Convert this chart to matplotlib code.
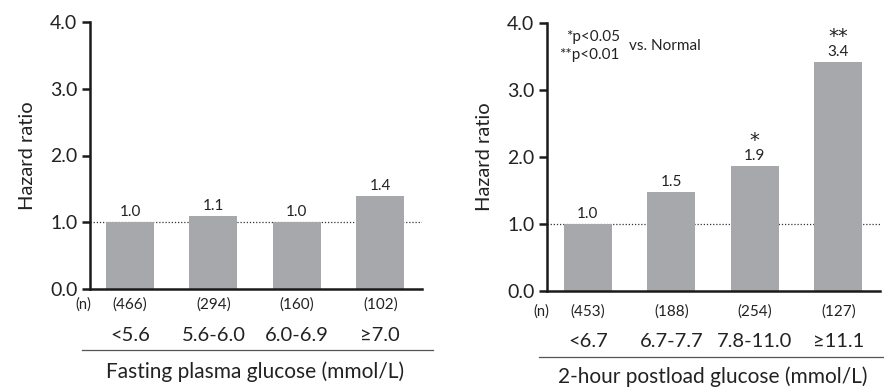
import matplotlib
matplotlib.use("Agg")
import matplotlib.pyplot as plt
import numpy as np

plt.rcParams['font.family'] = ['Lato', 'DejaVu Sans']

# data
fpg_cats = ["<5.6", "5.6-6.0", "6.0-6.9", "≥7.0"]
fpg_hr = [1.0, 1.1, 1.0, 1.4]
fpg_n = [466, 294, 160, 102]

pg2h_cats = ["<6.7", "6.7-7.7", "7.8-11.0", "≥11.1"]
pg2h_hr = [1.0, 1.48, 1.87, 3.42]
pg2h_labels = ["1.0", "1.5", "1.9", "3.4"]
pg2h_n = [453, 188, 254, 127]
pg2h_sig = ["", "", "*", "**"]

W, H = 884, 387
BAR_COLOR = "#a7a8ab"
TXT = "#222222"


def draw_panel(fig, rect_px, cats, hr, labels, ns, xlabel, sig=None, xlim=(-0.48, 3.5),
               ylines=(-0.24, -0.70, -0.92, -1.24), hline=(-0.575, 3.63)):
    left, top, right, bottom = rect_px
    ax = fig.add_axes([left / W, (H - bottom) / H, (right - left) / W, (bottom - top) / H])
    x = np.arange(len(cats))
    ax.bar(x, hr, width=0.575, color=BAR_COLOR, zorder=2)
    ax.axhline(1.0, color="#333333", lw=0.9, ls=(0, (1, 1.5)), zorder=1)
    ax.set_xlim(*xlim)
    ax.set_ylim(0, 4)
    ax.set_yticks([0, 1, 2, 3, 4])
    ax.set_yticklabels(["0.0", "1.0", "2.0", "3.0", "4.0"], fontsize=14, color=TXT)
    ax.set_xticks([])
    for s in ["top", "right"]:
        ax.spines[s].set_visible(False)
    for s in ["left", "bottom"]:
        ax.spines[s].set_linewidth(1.8)
        ax.spines[s].set_color("#1a1a1a")
    ax.tick_params(axis="y", length=6, width=1.8, color="#1a1a1a", pad=3)
    ax.set_ylabel("Hazard ratio", fontsize=14.5, color=TXT, labelpad=10)

    y_n, y_cat, y_line, y_xl = ylines
    for i in range(len(cats)):
        ax.text(x[i], hr[i] + 0.15, labels[i], ha="center", va="center", fontsize=11, color=TXT)
        ax.text(x[i], y_n, "(%d)" % ns[i], ha="center", va="center", fontsize=11, color=TXT, clip_on=False)
        ax.text(x[i], y_cat, cats[i], ha="center", va="center", fontsize=14.5, color=TXT, clip_on=False)
        if sig and sig[i]:
            ax.text(x[i], hr[i] + 0.29, sig[i], ha="center", va="baseline", fontsize=14,
                    family="DejaVu Sans", color=TXT)
    ax.text(-0.56, y_n, "(n)", ha="center", va="center", fontsize=10.5, color=TXT, clip_on=False)
    ax.plot(hline, [y_line, y_line], color="#555555", lw=0.9, clip_on=False)
    ax.text(1.5, y_xl, xlabel, ha="center", va="center", fontsize=15, color=TXT, clip_on=False)
    return ax


fig = plt.figure(figsize=(W / 100, H / 100), dpi=100)

draw_panel(fig, (90, 22, 422, 289), fpg_cats, fpg_hr, ["%.1f" % v for v in fpg_hr], fpg_n,
           "Fasting plasma glucose (mmol/L)")

ax2 = draw_panel(fig, (547, 23, 880, 291), pg2h_cats, pg2h_hr, pg2h_labels, pg2h_n,
                 "2-hour postload glucose (mmol/L)", sig=pg2h_sig, xlim=(-0.49, 3.5),
                 ylines=(-0.30, -0.75, -0.99, -1.28), hline=(-0.58, 3.55))
ax2.text(0.38, 3.79, "*p<0.05", ha="right", va="center", fontsize=11, color=TXT)
ax2.text(0.38, 3.52, "**p<0.01", ha="right", va="center", fontsize=11, color=TXT)
ax2.text(0.49, 3.66, "vs. Normal", ha="left", va="center", fontsize=11, color=TXT)

fig.savefig("out.png", dpi=100)
